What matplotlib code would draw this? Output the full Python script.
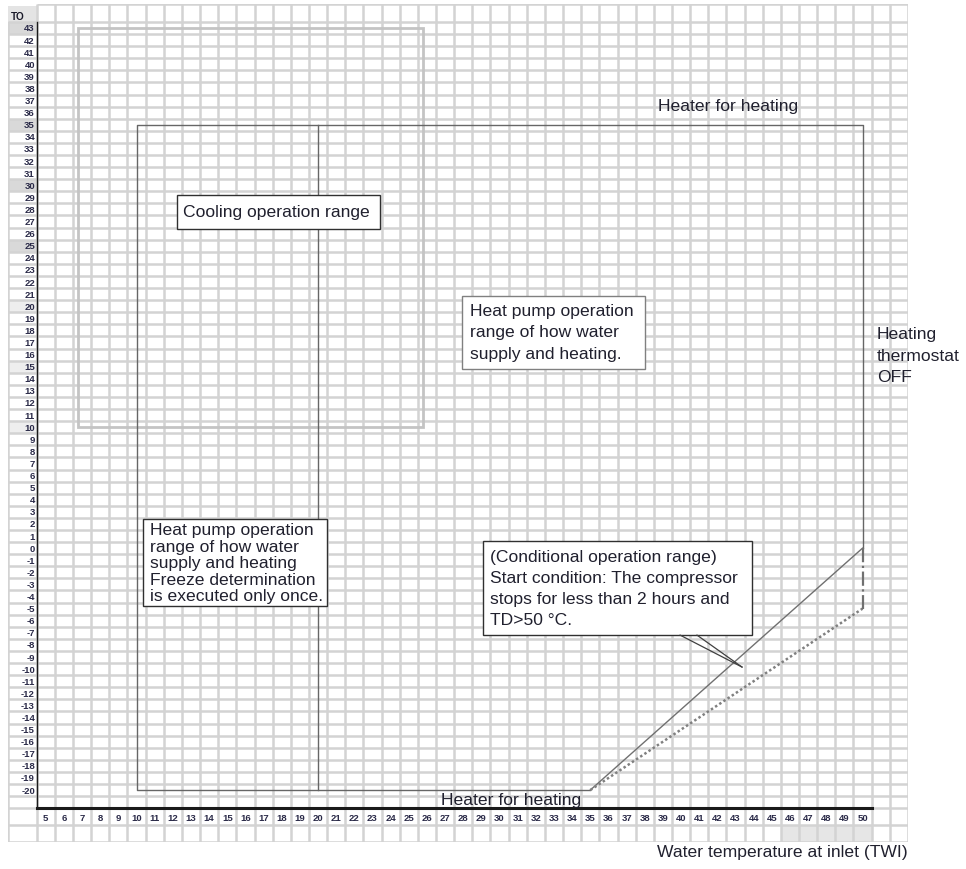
import matplotlib
matplotlib.use("Agg")
import matplotlib.pyplot as plt
from matplotlib.patches import Rectangle

plt.rcParams['font.family'] = ['Liberation Sans', 'DejaVu Sans']

# axis values (TWI along x, TO along y)
twi_ticks = list(range(5, 51))
to_ticks = list(range(-20, 44))
to_shaded_dark = [43, 35, 30, 25]
to_shaded_light = [20, 15, 10]

# heat pump operation range outline
hp_twi = [35, 10, 10, 50, 50]
hp_to = [-20, -20, 35, 35, 0]
divider_twi = [20, 20]
divider_to = [-20, 35]

# conditional operation range
cond_twi = [35, 50]
cond_upper_to = [-20, 0]
cond_lower_to = [-20, -5]
thermo_twi = [50, 50]
thermo_to = [0, -5]

# cooling operation range
cooling_twi = [6.8, 25.8]
cooling_to = [10, 43]

TXT = '#20202e'
GRID = '#d3d3d3'

fig = plt.figure(figsize=(9.66, 8.70), dpi=100)
ax = fig.add_axes([0.00833, 0.03092, 0.93152, 0.96356])
x0, x1 = 2.92, 52.5
y0, y1 = -24.3, 45.0
ax.set_xlim(x0, x1)
ax.set_ylim(y0, y1)
ax.axis('off')

# shaded label cells
for v in to_shaded_dark:
    ax.add_patch(Rectangle((x0, v - 0.5), 4.5 - x0, 1, fc='#d9d9d9', ec='none', zorder=0))
for v in to_shaded_light:
    ax.add_patch(Rectangle((x0, v - 0.5), 4.5 - x0, 1, fc='#eeeeee', ec='none', zorder=0))
ax.add_patch(Rectangle((x0, 43.5), 4.5 - x0, 1.3, fc='#e4e4e4', ec='none', zorder=0))
ax.add_patch(Rectangle((45.5, -24.3), 5, 1.4, fc='#e6e6e6', ec='none', zorder=0))

# spreadsheet grid
vx = [v + 0.5 for v in range(4, 53)]
ax.vlines(vx, y0, y1, color=GRID, lw=1.8, zorder=0.5)
ax.vlines([x0], y0, 43.5, color=GRID, lw=1.8, zorder=0.5)
hy = [-24.3, -22.9, -21.5] + [v + 0.5 for v in range(-21, 44)]
ax.hlines(hy, x0, x1, color=GRID, lw=1.8, zorder=0.5)
ax.hlines([y1], 4.5, x1, color=GRID, lw=1.8, zorder=0.5)

# axis lines
ax.plot([4.5, 4.5], [43.5, -21.5], color='#1a1a1a', lw=1.0, zorder=2)
ax.plot([4.5, 50.5], [-21.5, -21.5], color='#1a1a1a', lw=2.2, zorder=2)

# tick labels
for v in to_ticks:
    ax.text(4.4, v, str(v), ha='right', va='center', fontsize=6.8,
            fontweight='bold', color='#2a2a48', zorder=3)
ax.text(3.1, 44.0, 'TO', ha='left', va='center', fontsize=7.2,
        fontweight='bold', color='#1a1a2a', zorder=3)
for v in twi_ticks:
    ax.text(v, -22.3, str(v), ha='center', va='center', fontsize=6.8,
            fontweight='bold', color='#2a2a48', zorder=3)

# ranges
ax.add_patch(Rectangle((cooling_twi[0], cooling_to[0]), cooling_twi[1] - cooling_twi[0],
                       cooling_to[1] - cooling_to[0], fill=False, ec='#c4c4c4', lw=2.0, zorder=1))
ax.plot(hp_twi, hp_to, color='#666666', lw=1.0, zorder=2)
ax.plot(divider_twi, divider_to, color='#666666', lw=1.0, zorder=2)
ax.plot(cond_twi, cond_upper_to, color='#707070', lw=1.0, zorder=2)
ax.plot(cond_twi, cond_lower_to, color='#808080', lw=1.8, ls=(0, (1, 1)), zorder=2)
ax.plot(thermo_twi, thermo_to, color='#707070', lw=1.6, ls='-.', zorder=2)

# annotation boxes
def box(xa, xb, ya, yb, ec):
    ax.add_patch(Rectangle((xa, ya), xb - xa, yb - ya, fc='white', ec=ec, lw=1.0, zorder=4))

box(12.23, 23.41, 26.38, 29.19, '#303030')
ax.text(12.56, 27.79, 'Cooling operation range', ha='left', va='center',
        fontsize=12.6, color=TXT, zorder=5)

box(27.91, 38.01, 14.81, 20.82, '#808080')
ax.text(28.37, 17.9, 'Heat pump operation\nrange of how water\nsupply and heating.',
        ha='left', va='center', fontsize=12.6, color=TXT, linespacing=1.55, zorder=5)

box(10.36, 20.49, -4.79, 2.40, '#303030')
ax.text(10.74, -1.2, 'Heat pump operation\nrange of how water\nsupply and heating\n'
        'Freeze determination\nis executed only once.',
        ha='left', va='center', fontsize=12.6, color=TXT, linespacing=1.12, zorder=5)

box(29.09, 43.91, -7.19, 0.59, '#303030')
ax.text(29.47, -3.3, '(Conditional operation range)\nStart condition: The compressor\n'
        'stops for less than 2 hours and\nTD>50 \u00b0C.',
        ha='left', va='center', fontsize=12.6, color=TXT, linespacing=1.48, zorder=5)
ax.plot([39.95, 43.36], [-7.19, -9.83], color='#404040', lw=0.9, zorder=5)
ax.plot([40.88, 43.36], [-7.19, -9.83], color='#404040', lw=0.9, zorder=5)

ax.text(38.73, 36.63, 'Heater for heating', ha='left', va='center',
        fontsize=12.6, color=TXT, zorder=5)
ax.text(26.77, -20.8, 'Heater for heating', ha='left', va='center',
        fontsize=12.6, color=TXT, zorder=5)
ax.text(50.8, 15.96, 'Heating\nthermostat\nOFF', ha='left', va='center',
        fontsize=12.6, color=TXT, linespacing=1.52, zorder=5, clip_on=False)

fig.text(908 / 966, 1 - 853 / 870, 'Water temperature at inlet (TWI)', ha='right',
         va='center', fontsize=12.6, color=TXT)

fig.savefig('out.png', dpi=100)
